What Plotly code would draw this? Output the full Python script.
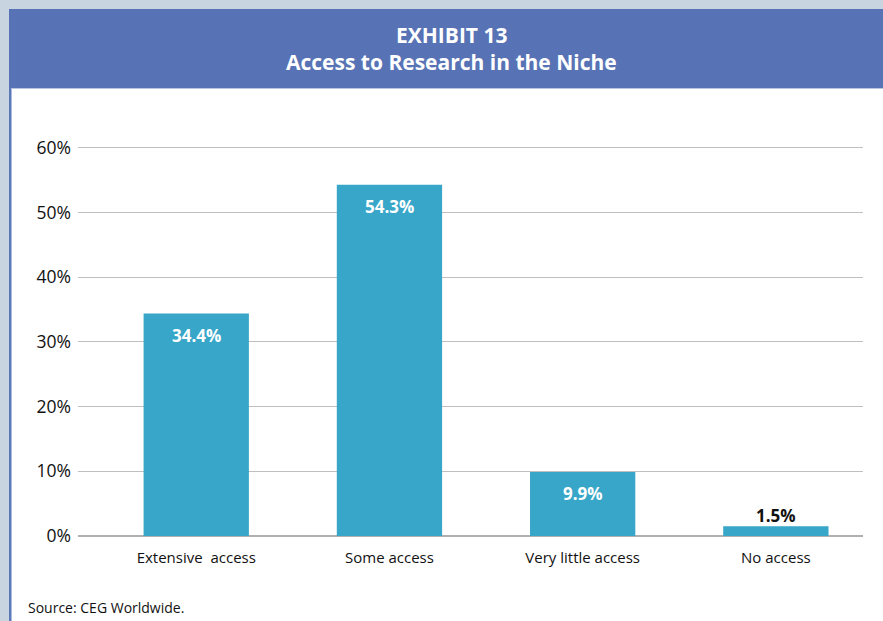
import plotly.graph_objects as go

categories = ["Extensive  access", "Some access", "Very little access", "No access"]
values = [34.4, 54.3, 9.9, 1.5]
value_labels = ["34.4%", "54.3%", "9.9%", "1.5%"]
tick_vals = [0, 10, 20, 30, 40, 50, 60]
tick_text = ["0%", "10%", "20%", "30%", "40%", "50%", "60%"]

W, H = 883, 621
L, R, T, B = 78, 863, 144, 536  # plot area in pixels
YMAX = 60.6

def px(x):
    return (x - L) / (R - L)

def py(y):
    return (B - y) / (B - T)

FONT = "Open Sans"

x_idx = list(range(len(categories)))

fig = go.Figure()
fig.add_trace(go.Bar(
    x=x_idx, y=values, width=0.545,
    marker=dict(color="#37a6c8", line=dict(width=0)),
    hoverinfo="skip",
))

shapes = [
    dict(type="rect", xref="paper", yref="paper", x0=px(0), x1=px(W), y0=py(9), y1=py(0),
         fillcolor="#c8d4e0", line=dict(width=0), layer="below"),
    dict(type="rect", xref="paper", yref="paper", x0=px(0), x1=px(9), y0=py(H), y1=py(0),
         fillcolor="#c8d4e0", line=dict(width=0), layer="below"),
    dict(type="rect", xref="paper", yref="paper", x0=px(9), x1=px(11.5), y0=py(H), y1=py(9),
         fillcolor="#5b78b8", line=dict(width=0), layer="below"),
    dict(type="rect", xref="paper", yref="paper", x0=px(9), x1=px(W), y0=py(88), y1=py(9),
         fillcolor="#5773b5", line=dict(width=0), layer="below"),
    dict(type="rect", xref="paper", yref="paper", x0=px(11.5), x1=px(W), y0=py(89), y1=py(88),
         fillcolor="#b8c6e2", line=dict(width=0), layer="below"),
]

annotations = [
    dict(text="<b>EXHIBIT 13</b>", xref="paper", yref="paper", x=px(451), y=py(35),
         showarrow=False, font=dict(family=FONT, size=21, color="white"), xanchor="center", yanchor="middle"),
    dict(text="<b>Access to Research in the Niche</b>", xref="paper", yref="paper", x=px(451), y=py(62),
         showarrow=False, font=dict(family=FONT, size=21, color="white"), xanchor="center", yanchor="middle"),
    dict(text="Source: CEG Worldwide.", xref="paper", yref="paper", x=px(26), y=py(607),
         showarrow=False, font=dict(family=FONT, size=14, color="#111111"), xanchor="left", yanchor="middle"),
]

for i, (v, lab) in enumerate(zip(values, value_labels)):
    if v > 5:
        annotations.append(dict(text="<b>" + lab + "</b>", x=i, y=v, xref="x", yref="y",
                                yshift=-22, showarrow=False, xanchor="center", yanchor="middle",
                                font=dict(family=FONT, size=17, color="white")))
    else:
        annotations.append(dict(text="<b>" + lab + "</b>", x=i, y=v, xref="x", yref="y",
                                yshift=11, showarrow=False, xanchor="center", yanchor="middle",
                                font=dict(family=FONT, size=17, color="#111111")))

fig.update_layout(
    width=W, height=H,
    margin=dict(l=L, r=W - R, t=T, b=H - B, pad=0),
    paper_bgcolor="white", plot_bgcolor="white",
    showlegend=False,
    shapes=shapes, annotations=annotations,
    xaxis=dict(
        range=[-0.612, 3.451], tickmode="array", tickvals=x_idx, ticktext=categories,
        showgrid=False, zeroline=False, showline=False, ticks="",
        ticklabelstandoff=11,
        tickfont=dict(family=FONT, size=15, color="#111111"),
        fixedrange=True,
    ),
    yaxis=dict(
        range=[0, YMAX], tickmode="array", tickvals=tick_vals, ticktext=tick_text,
        showgrid=True, gridcolor="#bfbfbf", gridwidth=1,
        zeroline=True, zerolinecolor="#b0b0b0", zerolinewidth=1.5,
        showline=False, ticks="", ticklabelstandoff=6,
        tickfont=dict(family=FONT, size=17.5, color="#111111"),
        fixedrange=True,
    ),
)

fig.write_html("out.html")
